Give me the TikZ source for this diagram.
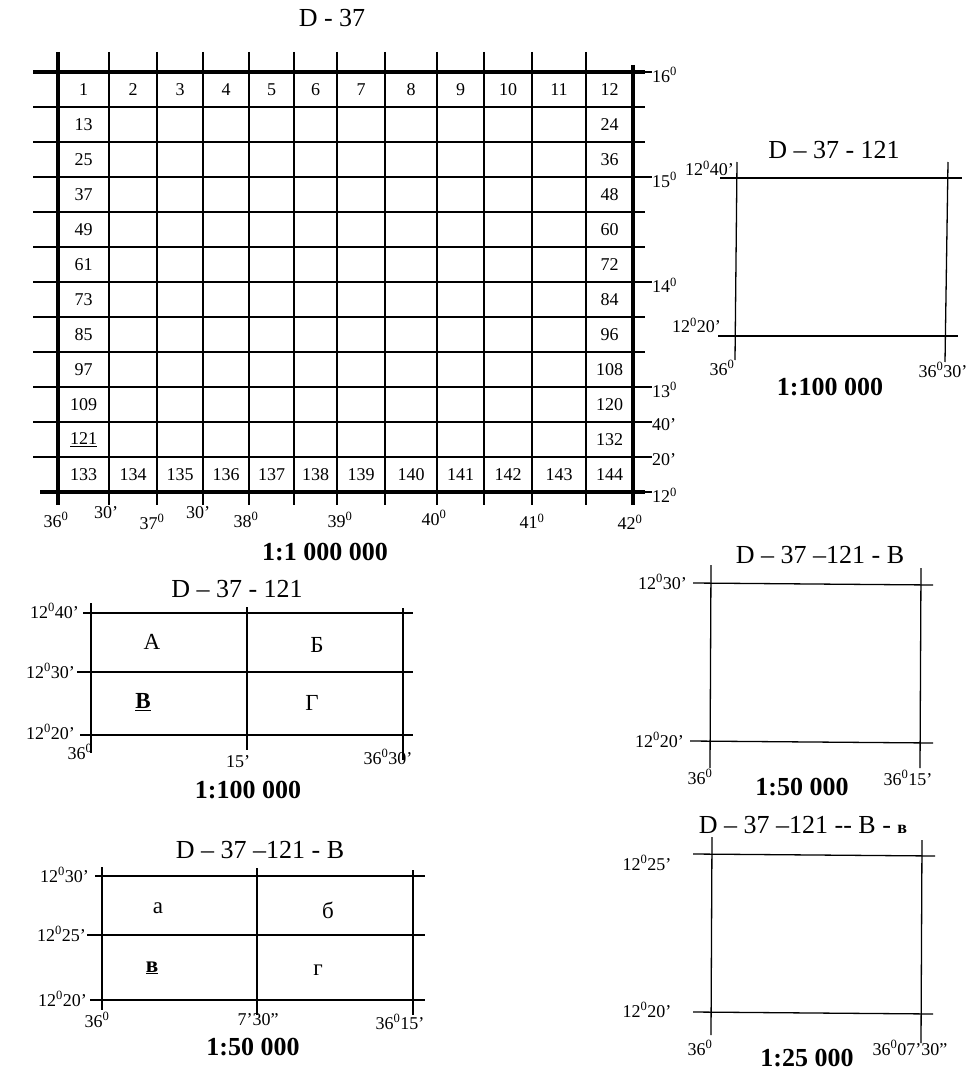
\documentclass[tikz,border=0pt]{standalone}
\usepackage{fontspec}
\setmainfont{Liberation Serif}
\usetikzlibrary{positioning}

\newcommand{\dg}{\textsuperscript{0}}

\begin{document}
\begin{tikzpicture}[
    x=1pt, y=-1pt,
    gridline/.style={line width=1.3pt},
    border/.style={line width=3.5pt},
    frameline/.style={line width=1.3pt},
    cellnum/.style={inner sep=0pt, font=\fontsize{18}{18}\selectfont},
    coordlbl/.style={inner sep=1pt, font=\fontsize{18}{18}\selectfont},
    sheettitle/.style={inner sep=0pt, font=\fontsize{26}{26}\selectfont},
    scalelbl/.style={inner sep=0pt, font=\fontsize{26}{26}\selectfont\bfseries},
    quarter/.style={inner sep=0pt, font=\fontsize{23}{23}\selectfont}
]
\useasboundingbox (0,0) rectangle (972,1070);

% sheet 1:1 000 000
\node (mtitle) [sheettitle] at (332,18) {D - 37};

\foreach \r in {1,...,11}
    \draw [gridline] (33,{72+35*\r}) -- (645,{72+35*\r});
\foreach \x in {109,157,203,249,294,337,385,437,484,532,586}
    \draw [gridline] (\x,52) -- (\x,505);
\draw [border] (33,72) -- (645,72);
\draw [border] (40,492) -- (645,492);
\draw [border] (58,52) -- (58,505);
\draw [border] (633,65) -- (633,505);

\foreach \cx [count=\c] in {83.5,133,180,226,271.5,315.5,361,411,460.5,508,559,609.5} {
    \pgfmathtruncatemacro{\numB}{132+\c}
    \node (top\c) [cellnum] at (\cx,89.5) {\c};
    \node (bot\c) [cellnum] at (\cx,475) {\numB};
}
\foreach \r in {2,...,11} {
    \pgfmathtruncatemacro{\numL}{12*\r-11}
    \pgfmathtruncatemacro{\numR}{12*\r}
    \node (left\r) [cellnum] at (83.5,{54.5+35*\r}) {\ifnum\r=11 \underline{\numL}\else\numL\fi};
    \node (right\r) [cellnum] at (609.5,{54.5+35*\r}) {\numR};
}

\foreach \y/\t in {72/16\dg, 177/15\dg, 282/14\dg, 387/13\dg, 422/40', 457/20', 492/12\dg} {
    \draw [gridline] (645,\y) -- (652,\y);
    \node (lat\y) [coordlbl, anchor=west] at (651,{\y+3}) {\t};
}
\foreach \x/\y/\t in {56/520/36\dg, 106/513/30', 152/522/37\dg, 198/513/30', 246/520/38\dg,
                      340/520/39\dg, 434/518/40\dg, 532/521/41\dg, 630/522/42\dg}
    \node (lon\x) [coordlbl] at (\x,\y) {\t};

\node (mscale) [scalelbl] at (325,552) {1:1 000 000};

% sheet 1:100 000, top right
\node (atitle) [sheettitle] at (834,150) {D – 37 - 121};
\draw [frameline] (720,178) -- (962,178);
\draw [frameline] (718,336) -- (958,336);
\draw [frameline] (737,162) -- (735,360);
\draw [frameline] (948,162) -- (945,362);
\node (an) [coordlbl, anchor=south east] at (735,177) {12\dg40'};
\node (as) [coordlbl, anchor=south east] at (722,334) {12\dg20'};
\node (aw) [coordlbl] at (722,368) {36\dg};
\node (ae) [coordlbl] at (943,370) {36\dg30'};
\node (ascale) [scalelbl] at (830,387) {1:100 000};

% sheet 1:100 000 with quarters
\node (btitle) [sheettitle] at (237,589) {D – 37 - 121};
\draw [frameline] (83,613) -- (413,613);
\draw [frameline] (77,672) -- (413,672);
\draw [frameline] (80,735) -- (413,735);
\draw [frameline] (91,603) -- (91,753);
\draw [frameline] (247,607) -- (247,750);
\draw [frameline] (403,608) -- (403,760);
\node (bn) [coordlbl, anchor=east] at (80,611) {12\dg40'};
\node (bm) [coordlbl, anchor=east] at (76,671) {12\dg30'};
\node (bs) [coordlbl, anchor=east] at (76,732) {12\dg20'};
\node (bw) [coordlbl] at (80,752) {36\dg};
\node (bc) [coordlbl] at (238,762) {15'};
\node (be) [coordlbl] at (388,757) {36\dg30'};
\node (qa) [quarter] at (152,642) {А};
\node (qb) [quarter] at (317,645) {Б};
\node (qv) [quarter] at (143,702) {\underline{\textbf{В}}};
\node (qg) [quarter] at (312,703) {Г};
\node (bscale) [scalelbl] at (248,790) {1:100 000};

% sheet 1:50 000, right
\node (ctitle) [sheettitle] at (820,555) {D – 37 –121 - В};
\draw [frameline] (693,583) -- (933,585);
\draw [frameline] (690,741) -- (933,743);
\draw [frameline] (711,565) -- (710,768);
\draw [frameline] (921,568) -- (920,768);
\node (cn) [coordlbl, anchor=east] at (688,582) {12\dg30'};
\node (cs) [coordlbl, anchor=east] at (685,740) {12\dg20'};
\node (cw) [coordlbl] at (700,777) {36\dg};
\node (ce) [coordlbl] at (908,778) {36\dg15'};
\node (cscale) [scalelbl] at (802,787) {1:50 000};

% sheet 1:50 000 with quarters
\node (dtitle) [sheettitle] at (260,850) {D – 37 –121 - В};
\draw [frameline] (95,876) -- (425,876);
\draw [frameline] (87,935) -- (425,935);
\draw [frameline] (90,1000) -- (425,1000);
\draw [frameline] (102,867) -- (102,1010);
\draw [frameline] (257,868) -- (257,1015);
\draw [frameline] (413,870) -- (413,1015);
\node (dn) [coordlbl, anchor=east] at (90,875) {12\dg30'};
\node (dm) [coordlbl, anchor=east] at (87,934) {12\dg25'};
\node (ds) [coordlbl, anchor=east] at (88,999) {12\dg20'};
\node (dw) [coordlbl] at (97,1020) {36\dg};
\node (dc) [coordlbl] at (258,1020) {7'30''};
\node (de) [coordlbl] at (400,1022) {36\dg15'};
\node (qa2) [quarter] at (158,908) {а};
\node (qb2) [quarter] at (328,910) {б};
\node (qv2) [quarter] at (152,968) {\underline{\textbf{в}}};
\node (qg2) [quarter] at (318,970) {г};
\node (dscale) [scalelbl] at (253,1047) {1:50 000};

% sheet 1:25 000
\node (etitle) [sheettitle] at (803,825) {D – 37 –121 -{}- В - {\fontsize{18}{18}\selectfont\bfseries в}};
\draw [frameline] (693,854) -- (935,856);
\draw [frameline] (693,1012) -- (933,1014);
\draw [frameline] (712,837) -- (711,1035);
\draw [frameline] (922,840) -- (921,1043);
\node (en) [coordlbl] at (647,863) {12\dg25'};
\node (es) [coordlbl] at (647,1010) {12\dg20'};
\node (ew) [coordlbl] at (700,1048) {36\dg};
\node (ee) [coordlbl] at (910,1048) {36\dg07'30''};
\node (escale) [scalelbl] at (807,1058) {1:25 000};

\end{tikzpicture}
\end{document}
